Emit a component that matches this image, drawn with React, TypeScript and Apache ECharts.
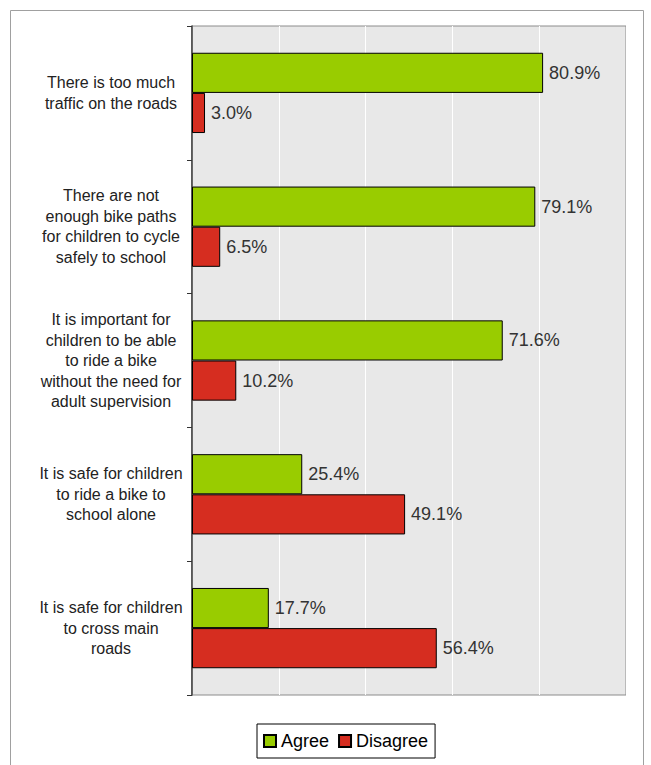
import React, { useEffect, useRef } from "react";
import * as echarts from "echarts";

const categories = [
  "There is too much\ntraffic on the roads",
  "There are not\nenough bike paths\nfor children to cycle\nsafely to school",
  "It is important for\nchildren to be able\nto ride a bike\nwithout the need for\nadult supervision",
  "It is safe for children\nto ride a bike to\nschool alone",
  "It is safe for children\nto cross main\nroads",
];
const agree = [80.9, 79.1, 71.6, 25.4, 17.7];
const disagree = [3.0, 6.5, 10.2, 49.1, 56.4];
const seriesNames = ["Agree", "Disagree"];

const FONT = "'Liberation Sans', Arial, sans-serif";

export default function App() {
  const ref = useRef<HTMLDivElement>(null);
  useEffect(() => {
    if (!ref.current) return;
    const chart = echarts.init(ref.current, null, { renderer: "svg" });
    const label = {
      show: true,
      position: "right",
      distance: 6,
      fontSize: 18,
      fontFamily: FONT,
      color: "#333",
      formatter: (p: any) => Number(p.value).toFixed(1) + "%",
    };
    chart.setOption({
      animation: false,
      backgroundColor: "#fff",
      textStyle: { fontFamily: FONT },
      graphic: [
        {
          type: "rect",
          shape: { x: 10.5, y: 10.5, width: 633, height: 800 },
          style: { fill: "none", stroke: "#a0a0a0", lineWidth: 1 },
          silent: true,
          z: -1,
        },
      ],
      grid: {
        left: 192,
        right: 25,
        top: 26,
        bottom: 70,
        show: true,
        backgroundColor: "#e8e8e8",
        borderColor: "#8c8c8c",
        borderWidth: 1,
      },
      legend: {
        left: 257,
        top: 724,
        padding: [8, 7, 8, 6],
        itemGap: 9,
        itemWidth: 12,
        itemHeight: 12,
        borderColor: "#000",
        borderWidth: 1,
        icon: "rect",
        textStyle: { fontSize: 18, fontFamily: FONT, color: "#000" },
        data: seriesNames,
      },
      xAxis: {
        type: "value",
        min: 0,
        max: 100,
        interval: 20,
        axisLabel: { show: false },
        axisLine: { show: false },
        axisTick: { show: false },
        splitLine: { show: true, lineStyle: { color: "#ffffff", width: 1 } },
      },
      yAxis: {
        type: "category",
        inverse: true,
        data: categories,
        axisLine: { show: true, lineStyle: { color: "#333", width: 1.5 } },
        axisTick: { show: true, length: 5, lineStyle: { color: "#333" } },
        axisLabel: {
          fontSize: 16,
          fontFamily: FONT,
          color: "#222",
          lineHeight: 20.5,
          align: "center",
          margin: 81,
        },
      },
      series: [
        {
          name: seriesNames[0],
          type: "bar",
          data: agree,
          barGap: "0%",
          barCategoryGap: "40%",
          itemStyle: { color: "#99cc00", borderColor: "#000", borderWidth: 1 },
          label,
        },
        {
          name: seriesNames[1],
          type: "bar",
          data: disagree,
          barGap: "0%",
          barCategoryGap: "40%",
          itemStyle: { color: "#d62d20", borderColor: "#000", borderWidth: 1 },
          label,
        },
      ],
    });
    return () => chart.dispose();
  }, []);
  return (
    <div
      ref={ref}
      style={{ position: "fixed", left: 0, top: 0, width: 651, height: 765 }}
    />
  );
}
